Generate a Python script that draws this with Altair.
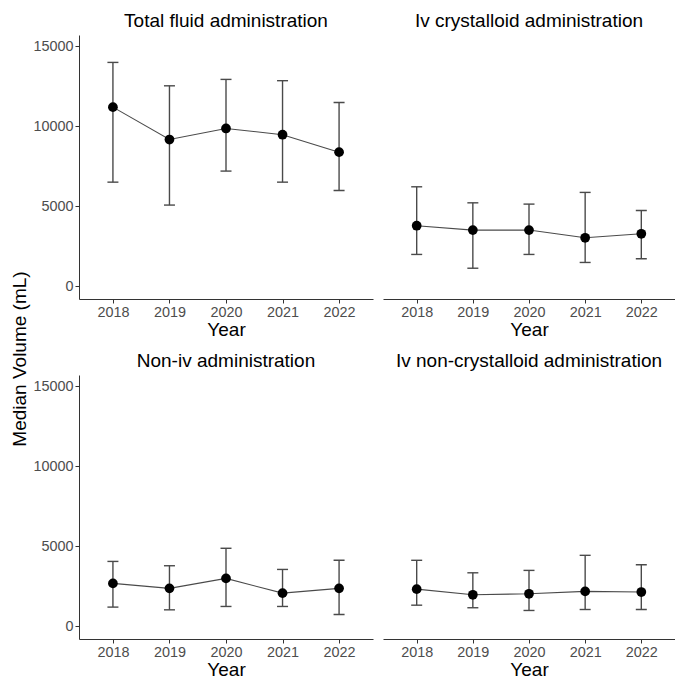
import altair as alt
import pandas as pd

FONT = "Liberation Sans"

years = ["2018", "2019", "2020", "2021", "2022"]
titles = [
    "Total fluid administration",
    "Iv crystalloid administration",
    "Non-iv administration",
    "Iv non-crystalloid administration",
]
y_title = "Median Volume (mL)"
y_ticks = [0, 5000, 10000, 15000]

total_med = [11190, 9170, 9860, 9470, 8380]
total_lo = [6510, 5080, 7200, 6510, 5990]
total_hi = [13980, 12520, 12920, 12840, 11480]

ivc_med = [3790, 3520, 3520, 3040, 3290]
ivc_lo = [2000, 1140, 2000, 1500, 1730]
ivc_hi = [6220, 5220, 5140, 5870, 4740]

noniv_med = [2690, 2380, 3000, 2080, 2380]
noniv_lo = [1210, 1040, 1250, 1250, 750]
noniv_hi = [4060, 3790, 4880, 3560, 4130]

ivnc_med = [2330, 1980, 2040, 2190, 2150]
ivnc_lo = [1330, 1170, 1000, 1060, 1060]
ivnc_hi = [4130, 3350, 3500, 4440, 3850]

YDOMAIN = [-780, 15690]
BAR_COLOR = "#4a4a4a"


def panel(title, med, lo, hi, left, width):
    df = pd.DataFrame({"Year": years, "med": med, "lo": lo, "hi": hi})
    xenc = alt.X(
        "Year:O",
        scale=alt.Scale(type="point", padding=0.6),
        axis=alt.Axis(title="Year", labelAngle=0),
    )
    yscale = alt.Scale(domain=YDOMAIN, nice=False, zero=False)
    if left:
        yaxis = alt.Axis(title=None, values=y_ticks, format="d")
    else:
        yaxis = None

    def yenc(field):
        return alt.Y(field, type="quantitative", scale=yscale, axis=yaxis)

    base = alt.Chart(df)
    rule = base.mark_rule(color=BAR_COLOR, strokeWidth=1.4).encode(
        x=xenc, y=yenc("lo"), y2="hi:Q"
    )
    cap_hi = base.mark_tick(
        orient="horizontal", size=11, thickness=1.4, color=BAR_COLOR, opacity=1
    ).encode(x=xenc, y=yenc("hi"))
    cap_lo = base.mark_tick(
        orient="horizontal", size=11, thickness=1.4, color=BAR_COLOR, opacity=1
    ).encode(x=xenc, y=yenc("lo"))
    line = base.mark_line(color=BAR_COLOR, strokeWidth=1.1).encode(
        x=xenc, y=yenc("med")
    )
    pts = base.mark_circle(size=95, color="black", opacity=1).encode(
        x=xenc, y=yenc("med")
    )
    return alt.layer(rule, cap_hi, cap_lo, line, pts).properties(
        width=width,
        height=264,
        title=alt.TitleParams(text=title, frame="group", anchor="middle"),
    )


p1 = panel(titles[0], total_med, total_lo, total_hi, True, 294)
p2 = panel(titles[1], ivc_med, ivc_lo, ivc_hi, False, 292)
p3 = panel(titles[2], noniv_med, noniv_lo, noniv_hi, True, 294)
p4 = panel(titles[3], ivnc_med, ivnc_lo, ivnc_hi, False, 292)

ytitle = (
    alt.Chart(pd.DataFrame({"t": [y_title]}))
    .mark_text(angle=270, fontSize=19, font=FONT, color="black")
    .encode(text="t:N", x=alt.value(12), y=alt.value(324))
    .properties(width=24, height=630)
)

row1 = alt.hconcat(p1, p2, spacing=10)
row2 = alt.hconcat(p3, p4, spacing=10)
grid = alt.vconcat(row1, row2, spacing=12)

chart = (
    alt.hconcat(ytitle, grid, spacing=0)
    .properties(padding={"top": 4, "left": 0, "right": 0, "bottom": 0})
    .configure_view(stroke=None)
    .configure_title(
        font=FONT, fontSize=19, fontWeight="normal", color="black", offset=4
    )
    .configure_axis(
        grid=False,
        domainColor="#333333",
        domainWidth=1,
        tickColor="#333333",
        tickWidth=1,
        tickSize=4,
        labelFont=FONT,
        labelFontSize=14.4,
        labelColor="#4D4D4D",
        labelPadding=2,
        titleFont=FONT,
        titleFontSize=19,
        titleFontWeight="normal",
        titleColor="black",
        titlePadding=2,
    )
)

chart.save("out.html", embed_options={"renderer": "svg", "actions": False})
